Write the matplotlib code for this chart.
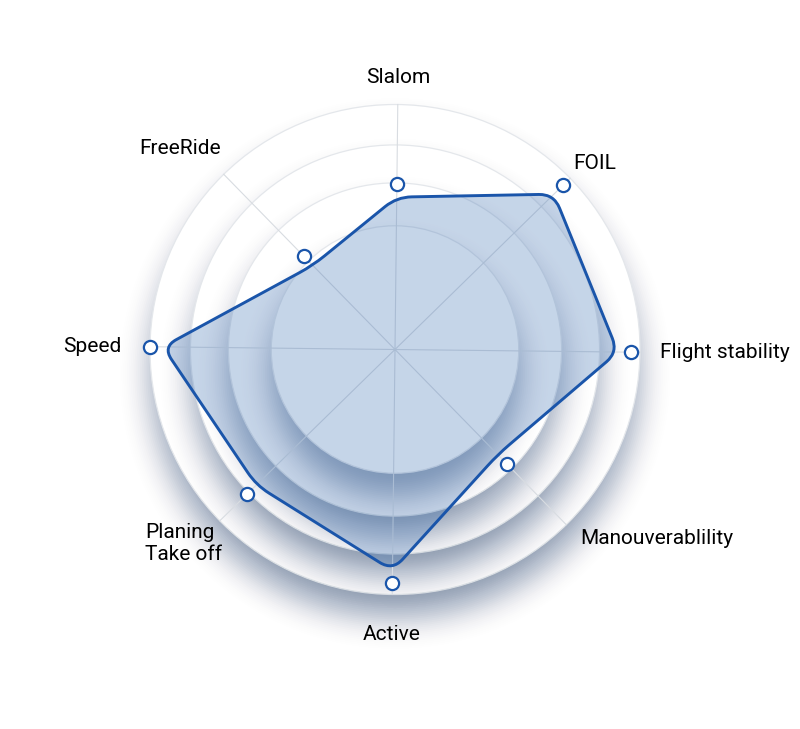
import math
import numpy as np
import matplotlib
matplotlib.use("Agg")
import matplotlib.pyplot as plt
from matplotlib.patches import Circle, PathPatch
from matplotlib.path import Path

# ---------------- data ----------------
categories = ["Slalom", "FOIL", "Flight stability", "Manouverablility",
              "Active", "Planing\nTake off", "Speed", "FreeRide"]
values = [6.75, 9.6, 9.63, 6.53, 9.55, 8.45, 10.0, 5.33]   # 0..10 scale
ring_levels = [10.0, 8.35, 6.8, 5.05]                      # decorative rings

# ---------------- layout / style ----------------
CX, CY = 395.0, 349.5          # centre (pixel coords)
UNIT = 24.5                    # px per value unit
ROT = 0.65                     # slight clockwise rotation (deg)
INSET = 13.0                   # polygon drawn slightly inside markers
ROUND = 15.0                   # corner rounding distance
LINE_C = "#1a55aa"
FILL_C = "#3a6fb2"
label_r = [272, 273, 265, 265, 285, 287, 274, 294]
label_nudge = [0, -1.35, 0, 0, 0, -1.85, 0, 2.65]
label_ha = ["center", "center", "left", "left", "center", "center", "right", "center"]

plt.rcParams["font.family"] = ["Roboto", "DejaVu Sans"]

fig = plt.figure(figsize=(8.0, 7.29), dpi=100)
ax = fig.add_axes([0, 0, 1, 1])
ax.set_xlim(0, 800)
ax.set_ylim(729, 0)
ax.set_aspect("equal")
ax.axis("off")

n = len(categories)
angles = np.deg2rad(90 - 45 * np.arange(n) - ROT)


def to_xy(r, th):
    return CX + r * np.cos(th), CY - r * np.sin(th)


def draw_shadow(r, dy=24, sigma=14, omax=0.55, color=(0.33, 0.44, 0.57)):
    rs = np.linspace(r + 3.5 * sigma, r - 3.0 * sigma, 50)
    prevT = 1.0
    for rr in rs:
        O = omax * 0.5 * math.erfc((rr - r) / (sigma * math.sqrt(2)))
        T = 1 - O
        a = max(0.0, 1 - T / prevT)
        prevT = T
        ax.add_patch(Circle((CX, CY + dy), rr, facecolor=color, alpha=a,
                            lw=0, zorder=1))


# rings with drop shadows
for lvl in ring_levels:
    r = lvl * UNIT
    draw_shadow(r)
    ax.add_patch(Circle((CX, CY), r, facecolor="white", edgecolor="#e4e7eb",
                        lw=0.9, zorder=1))

# spokes
R_out = ring_levels[0] * UNIT
for th in angles:
    x1, y1 = to_xy(R_out, th)
    ax.plot([CX, x1], [CY, y1], color="#d8dce1", lw=0.8, zorder=2)

# rounded polygon
vals = np.array(values)
pr = vals * UNIT - INSET
pts = np.column_stack(to_xy(pr, angles))
verts, codes = [], []
for i in range(n):
    p = pts[i]
    v1 = pts[i - 1] - p
    v2 = pts[(i + 1) % n] - p
    l1, l2 = np.linalg.norm(v1), np.linalg.norm(v2)
    d = min(ROUND, 0.45 * l1, 0.45 * l2)
    a = p + v1 / l1 * d
    b = p + v2 / l2 * d
    verts.append(a)
    codes.append(Path.MOVETO if i == 0 else Path.LINETO)
    verts += [p, b]
    codes += [Path.CURVE3, Path.CURVE3]
verts.append(verts[0])
codes.append(Path.CLOSEPOLY)
path = Path(np.array(verts), codes)
ax.add_patch(PathPatch(path, facecolor=FILL_C, alpha=0.29, lw=0, zorder=3))
ax.add_patch(PathPatch(path, facecolor="none", edgecolor=LINE_C, lw=2.1,
                       joinstyle="round", zorder=4))

# markers
mx, my = to_xy(vals * UNIT, angles)
ax.plot(mx, my, "o", ms=9.5, mfc="white", mec=LINE_C, mew=1.6, zorder=5)

# labels
for i, lab in enumerate(categories):
    th = angles[i] + np.deg2rad(label_nudge[i])
    x, y = to_xy(label_r[i], th)
    ax.text(x, y, lab, ha=label_ha[i], va="center", multialignment="left",
            fontsize=15, color="#000000", linespacing=1.2, zorder=6)

fig.savefig("out.png", dpi=100, facecolor="white")
